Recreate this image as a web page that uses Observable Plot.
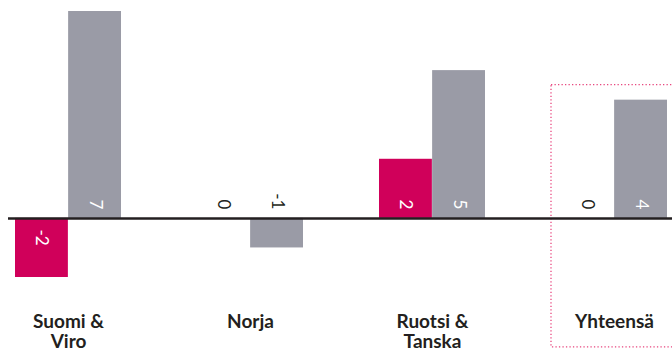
<!DOCTYPE html>
<html>
<head>
<meta charset="utf-8">
<script src="https://cdn.jsdelivr.net/npm/d3@7"></script>
<script src="https://cdn.jsdelivr.net/npm/@observablehq/plot@0.6"></script>
<style>
  body { margin: 0; background: #fff; }
  #chart svg { display: block; }
</style>
</head>
<body>
<div id="chart"></div>
<script>
// Change per region, two series side by side
const categories = ["Suomi &\nViro", "Norja", "Ruotsi &\nTanska", "Yhteensä"];
const seriesFirst = [-2, 0, 2, 0];
const seriesSecond = [7, -1, 5, 4];
const highlighted = "Yhteensä";

const seriesColors = ["#d0005a", "#9a9ba6"];
const ink = "#231f20";

const width = 672, height = 356;
const marginLeft = 15, marginRight = 4, marginTop = 11, marginBottom = 79;
const paddingInner = 0.417;

const data = categories.flatMap((cat, i) => [
  {cat, s: 0, v: seriesFirst[i]},
  {cat, s: 1, v: seriesSecond[i]}
]);

const xScale = Plot.scale({
  x: {type: "band", domain: categories, range: [marginLeft, width - marginRight], paddingInner, paddingOuter: 0}
});
const half = xScale.bandwidth / 2;

// labels sit inside bars that are long enough, otherwise just above the baseline
const inside = d => Math.abs(d.v) >= 2;

function valueLabels(s) {
  const rows = data.filter(d => d.s === s);
  const dx = s === 0 ? -half / 2 : half / 2;
  const common = {x: "cat", y: () => 0, text: d => String(d.v), rotate: 90, dx, lineAnchor: "middle", fontSize: 17, fontWeight: 400};
  return [
    Plot.text(rows.filter(d => inside(d) && d.v > 0), {...common, textAnchor: "end", dy: -9, fill: "white"}),
    Plot.text(rows.filter(d => inside(d) && d.v < 0), {...common, textAnchor: "start", dy: 11, fill: "white"}),
    Plot.text(rows.filter(d => !inside(d)), {...common, textAnchor: "end", dy: -9, fill: ink})
  ];
}

const hiRows = data.filter(d => d.cat === highlighted);
const hiBox = [{cat: highlighted, top: d3.max(hiRows, d => Math.max(d.v, 0)), bottom: d3.min(hiRows, d => Math.min(d.v, 0))}];

const chart = Plot.plot({
  width, height, marginLeft, marginRight, marginTop, marginBottom,
  style: {fontFamily: "Lato, 'Open Sans', sans-serif", background: "white"},
  x: {type: "band", domain: categories, paddingInner, paddingOuter: 0, axis: null},
  y: {domain: [-2, 7], axis: null},
  marks: [
    Plot.rect(hiBox, {
      x: "cat", y1: "bottom", y2: "top",
      insetLeft: -10, insetRight: -20, insetTop: -15, insetBottom: -129,
      fill: "none", stroke: "#e8477f", strokeWidth: 1.3, strokeDasharray: "1.3,2.2"
    }),
    Plot.barY(data.filter(d => d.s === 0), {x: "cat", y: "v", fill: seriesColors[0], insetRight: half}),
    Plot.barY(data.filter(d => d.s === 1), {x: "cat", y: "v", fill: seriesColors[1], insetLeft: half}),
    Plot.ruleY([0], {stroke: ink, strokeWidth: 2.5, insetLeft: -7, insetRight: -4}),
    ...valueLabels(0),
    ...valueLabels(1),
    Plot.text(categories, {
      x: d => d, frameAnchor: "bottom", lineAnchor: "top", dy: 36,
      fontSize: 19, fontWeight: "bold", lineHeight: 1.06, fill: ink, textAnchor: "middle"
    })
  ]
});

document.getElementById("chart").append(chart);
</script>
</body>
</html>
